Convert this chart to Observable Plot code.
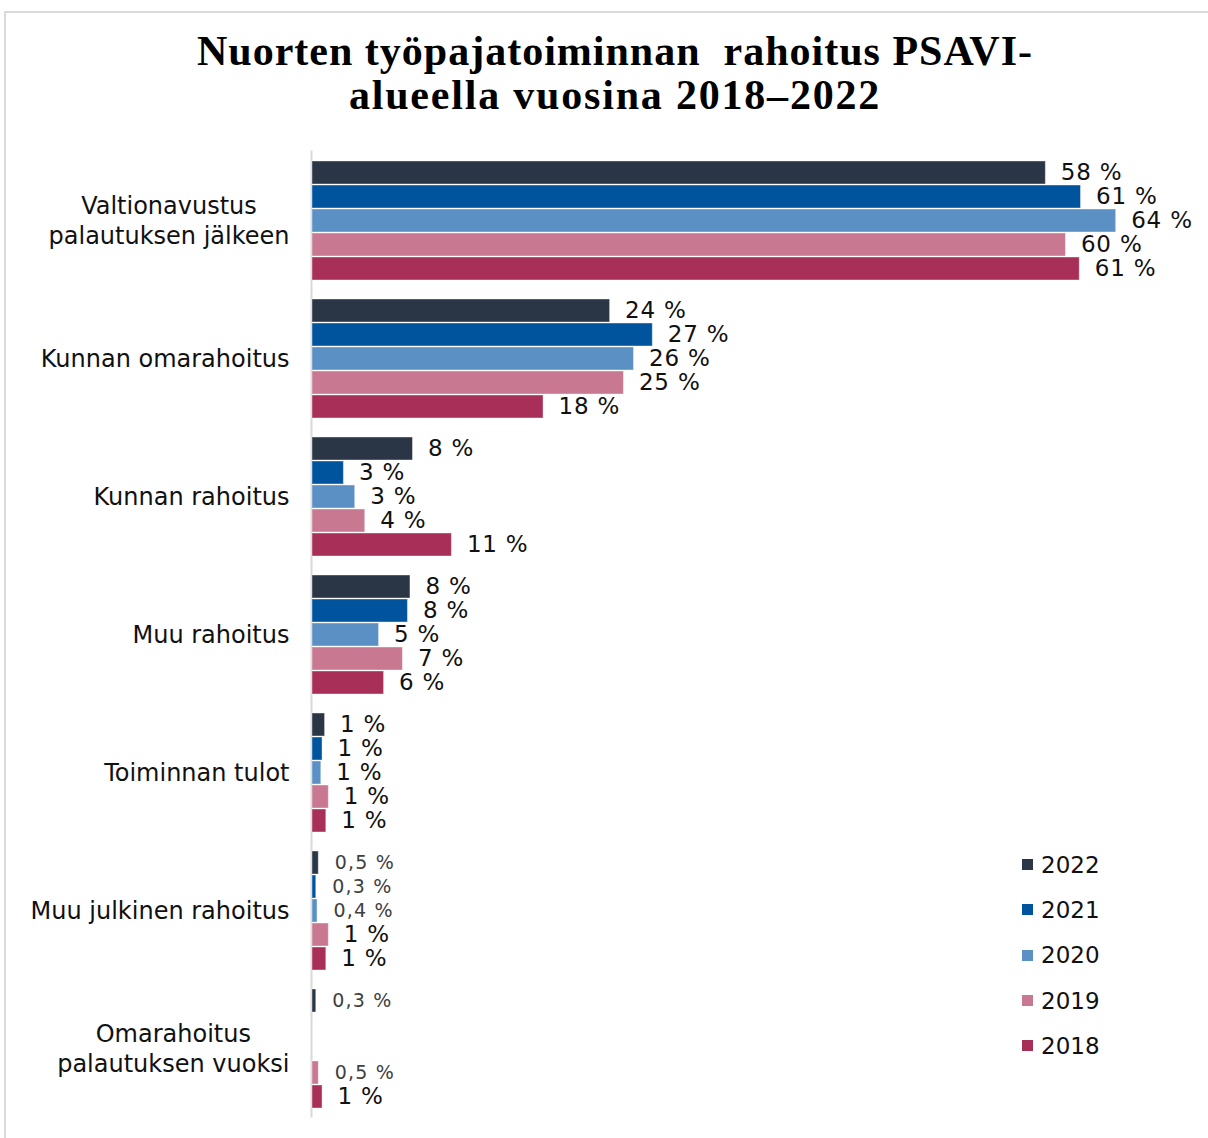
<!DOCTYPE html>
<html>
<head>
<meta charset="utf-8">
<script src="https://cdn.jsdelivr.net/npm/d3@7"></script>
<script src="https://cdn.jsdelivr.net/npm/@observablehq/plot@0.6"></script>
<style>
  html, body { margin: 0; padding: 0; background: #fff; overflow: hidden; width: 1208px; height: 1138px; }
  #frame { position: absolute; left: 4px; top: 11px; width: 1400px; height: 1400px; border-top: 2px solid #d9d9d9; border-left: 2px solid #d9d9d9; }
  #title { position: absolute; left: 0; top: 29px; width: 1230px; text-align: center; font-family: "Liberation Serif", serif; font-weight: bold; font-size: 42px; line-height: 44px; color: #000; }
  #title .l1 { letter-spacing: 1px; }
  #title .l2 { letter-spacing: 1.8px; }
  #chart { position: absolute; left: 0; top: 140px; }
  #legend { position: absolute; left: 1022px; top: 842px; font-family: "DejaVu Sans", sans-serif; font-size: 23px; color: #111; }
  #legend .row { display: flex; align-items: center; height: 45.3px; }
  #legend .sw { width: 11px; height: 11px; margin-right: 8px; }
  g[font-size="19"] text { letter-spacing: 1.2px; }
  g[font-size="23"] text { letter-spacing: 0.8px; }
</style>
</head>
<body>
<div id="frame"></div>
<div id="title"><span class="l1">Nuorten työpajatoiminnan&nbsp; rahoitus PSAVI-</span><br><span class="l2">alueella vuosina 2018–2022</span></div>
<div id="chart"></div>
<div id="legend"></div>
<script>
const categories = [
  "Valtionavustus\npalautuksen jälkeen",
  "Kunnan omarahoitus",
  "Kunnan rahoitus",
  "Muu rahoitus",
  "Toiminnan tulot",
  "Muu julkinen rahoitus",
  "Omarahoitus\npalautuksen vuoksi"
];
const years = ["2022", "2021", "2020", "2019", "2018"];
const colors = ["#2a3545", "#00549e", "#5b90c4", "#c87891", "#a83058"];
const v2022 = [58.4, 23.7, 8.0, 7.8, 1.0, 0.5, 0.3];
const v2021 = [61.2, 27.1, 2.5, 7.6, 0.8, 0.3, null];
const v2020 = [64.0, 25.6, 3.4, 5.3, 0.7, 0.4, null];
const v2019 = [60.0, 24.8, 4.2, 7.2, 1.3, 1.3, 0.5];
const v2018 = [61.1, 18.4, 11.1, 5.7, 1.1, 1.1, 0.8];
const series = [v2022, v2021, v2020, v2019, v2018];

const data = [];
years.forEach((yr, i) => {
  categories.forEach((c, j) => {
    const v = series[i][j];
    if (v != null) data.push({category: c, year: yr, value: v});
  });
});
const fmt = v => v < 0.6 ? v.toFixed(1).replace(".", ",") + " %" : Math.round(v) + " %";

const catFont = 24;
const ctx = document.createElement("canvas").getContext("2d");
ctx.font = `${catFont}px "DejaVu Sans"`;
const widest = c => Math.max(...c.split("\n").map(s => ctx.measureText(s).width));

const catMarks = categories.map(c => Plot.text([c], {
  fy: d => d, text: d => d, frameAnchor: "left", textAnchor: "middle",
  dx: -23 - widest(c) / 2, dy: -1, fontSize: catFont, lineHeight: 1.25, fill: "#111"
}));

const chart = Plot.plot({
  width: 1208,
  height: 998,
  marginLeft: 312,
  marginRight: 17,
  marginTop: 11,
  marginBottom: 21,
  style: {fontFamily: "DejaVu Sans, sans-serif", background: "transparent"},
  x: {domain: [0, 70], axis: null},
  y: {domain: years, paddingInner: 0.06, paddingOuter: 0, axis: null},
  fy: {domain: categories, paddingInner: 0.13, paddingOuter: 0.065, axis: null},
  color: {domain: years, range: colors},
  marks: [
    Plot.ruleX(categories, {x: 0, fy: d => d, stroke: "#d9d9d9", strokeWidth: 2, dx: -1, insetTop: -9.5, insetBottom: -9.5}),
    Plot.barX(data, {x: "value", y: "year", fy: "category", fill: "year", stroke: "white", strokeOpacity: 0.4, strokeWidth: 1}),
    Plot.text(data.filter(d => d.value >= 0.6), {x: "value", y: "year", fy: "category", text: d => fmt(d.value), dx: 15, textAnchor: "start", fontSize: 23, fill: "#111"}),
    Plot.text(data.filter(d => d.value < 0.6), {x: "value", y: "year", fy: "category", text: d => fmt(d.value), dx: 16, textAnchor: "start", fontSize: 19, fill: "#404040"}),
    ...catMarks
  ]
});
document.getElementById("chart").appendChild(chart);

const legend = document.getElementById("legend");
years.forEach((yr, i) => {
  const row = document.createElement("div");
  row.className = "row";
  row.innerHTML = `<div class="sw" style="background:${colors[i]}"></div><span>${yr}</span>`;
  legend.appendChild(row);
});
</script>
</body>
</html>
